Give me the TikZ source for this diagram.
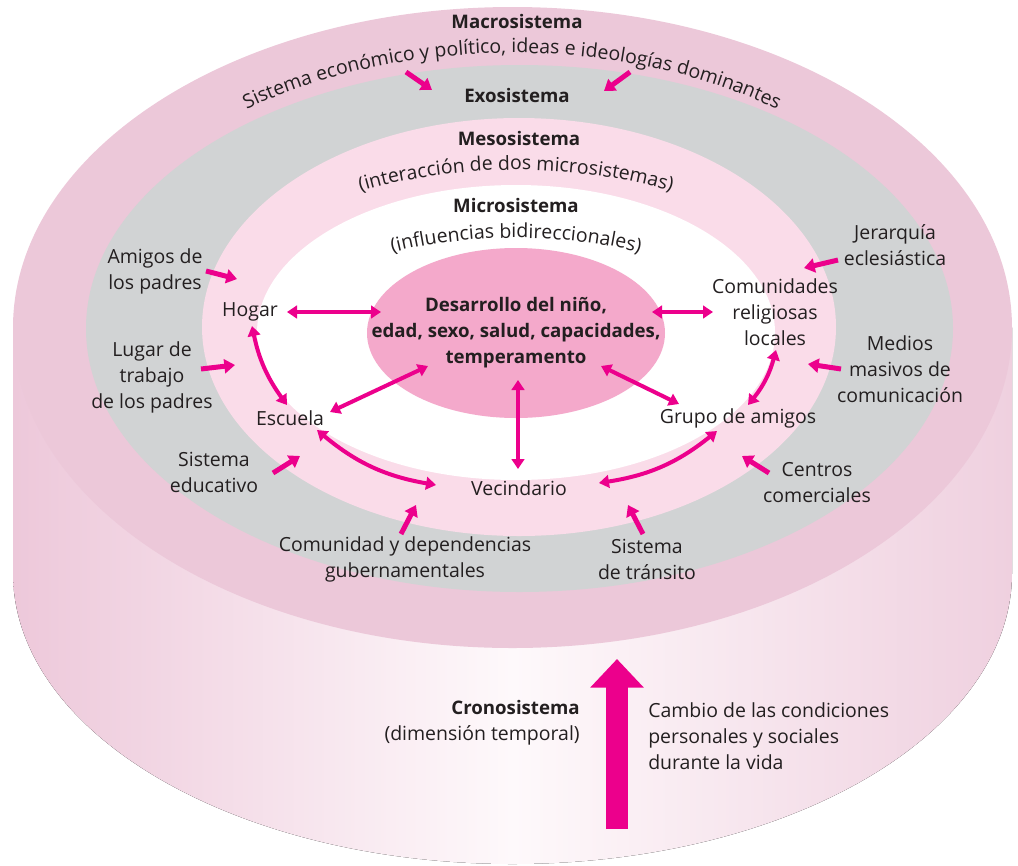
\documentclass[tikz,border=0pt]{standalone}
\usepackage{fontspec}
\setmainfont{Open Sans}
\usetikzlibrary{arrows.meta,decorations.text}
\definecolor{macro}{HTML}{ECC8D9}
\definecolor{exo}{HTML}{D1D3D4}
\definecolor{meso}{HTML}{FADCE9}
\definecolor{core}{HTML}{F4A9CB}
\definecolor{mag}{HTML}{EC008C}
\definecolor{ink}{HTML}{231F20}
\definecolor{cylL}{HTML}{EDC8DA}
\definecolor{cylM}{HTML}{FEF9FB}
\definecolor{cylR}{HTML}{EFD0DF}
\newcommand{\tf}{\fontsize{14.6}{19.5}\selectfont}
\newcommand{\tfb}{\fontsize{14}{19.5}\selectfont\bfseries}
\begin{document}
\begin{tikzpicture}[x=0.75pt,y=0.75pt,
  every node/.style={text=ink, font=\tf, align=center, inner sep=0pt},
  boldlbl/.style={font=\tfb},
  inarrow/.style={mag, line width=3.75pt, -{Triangle[length=8pt,width=10.5pt]}},
  biarrow/.style={mag, line width=3pt, {Triangle[length=7.5pt,width=9.5pt]}-{Triangle[length=7.5pt,width=9.5pt]}},
  bigarrow/.style={mag, line width=16.5pt, -{Triangle[length=21.5pt,width=39pt]}},
  curvetext/.style={decorate, decoration={text along path, text align=center, text={|\tf\color{ink}|#1}}}
]
\useasboundingbox (0,0) rectangle (1018,-865);
% cylinder body
\fill[left color=cylL, right color=cylR, middle color=cylM]
  (13,-327.5) -- (13,-573) arc[start angle=180, end angle=360, x radius=499.5, y radius=291]
  -- (1012,-327.5) -- cycle;
% rings
\fill[macro] (512.5,-327.5) ellipse[x radius=499.5, y radius=320.5];
\fill[exo] (519.5,-328.5) ellipse[x radius=433.5, y radius=263.5];
\fill[meso] (519,-327) ellipse[x radius=317, y radius=209];
\fill[white] (516,-332.5) ellipse[x radius=259, y radius=147.5];
\fill[core] (516,-333) ellipse[x radius=149, y radius=85];

% curved texts
\path[curvetext={Sistema económico y político, ideas e ideologías dominantes}]
  (133.55,-190.5) arc[start angle=150, end angle=30, x radius=437, y radius=275];
\path[curvetext={(interacción de dos microsistemas)}]
  (224.7,-275.3) arc[start angle=160, end angle=20, x radius=310, y radius=160];
\path[curvetext={(influencias bidireccionales)}]
  (290.5,-314) arc[start angle=170, end angle=10, x radius=229, y radius=92];

% titles
\node[boldlbl] (macroT) at (517,-21) {Macrosistema};
\node[boldlbl] (exoT) at (517,-95) {Exosistema};
\node[boldlbl] (mesoT) at (519,-138) {Mesosistema};
\node[boldlbl] (microT) at (516,-205) {Microsistema};
\node[boldlbl] (coreT) at (516,-333) {Desarrollo del niño,\\edad, sexo, salud, capacidades,\\temperamento};

% labels
\node (amigos) at (155,-271) {Amigos de\\los padres};
\node (hogar) at (250,-312) {Hogar};
\node (lugar) at (152,-377) {Lugar de\\trabajo\\de los padres};
\node (escuela) at (290,-418) {Escuela};
\node (educ) at (214,-472) {Sistema\\educativo};
\node (vecin) at (519,-488) {Vecindario};
\node (comun) at (405,-559) {Comunidad y dependencias\\gubernamentales};
\node (trans) at (647,-559) {Sistema\\de tránsito};
\node (centros) at (817,-483) {Centros\\comerciales};
\node (grupo) at (738,-418) {Grupo de amigos};
\node (relig) at (775,-312) {Comunidades\\religiosas\\locales};
\node (jerar) at (895,-245) {Jerarquía\\eclesiástica};
\node (medios) at (900,-369) {Medios\\masivos de\\comunicación};
\node[anchor=east, align=right] (crono) at (580,-723) {{\tfb Cronosistema}\\(dimensión temporal)};
\node[anchor=west, align=left] (cambio) at (648,-736) {Cambio de las condiciones\\personales y sociales\\durante la vida};

% arrow end points
\coordinate (a1s) at (406,-72);  \coordinate (a1e) at (432,-90);
\coordinate (a2s) at (630,-72);  \coordinate (a2e) at (604,-91);
\coordinate (a3s) at (206,-271); \coordinate (a3e) at (237,-279);
\coordinate (a4s) at (838,-260); \coordinate (a4e) at (804,-268);
\coordinate (a5s) at (201,-369); \coordinate (a5e) at (235,-365);
\coordinate (a6s) at (841,-369); \coordinate (a6e) at (808,-364);
\coordinate (a7s) at (273,-473); \coordinate (a7e) at (300,-456);
\coordinate (a8s) at (769,-473); \coordinate (a8e) at (742,-456);
\coordinate (a9s) at (401,-534); \coordinate (a9e) at (416,-505);
\coordinate (a10s) at (643,-534); \coordinate (a10e) at (628,-505);

\coordinate (b1s) at (287,-312); \coordinate (b1e) at (381,-312);
\coordinate (b2s) at (652,-312); \coordinate (b2e) at (713,-312);
\coordinate (b3s) at (252,-326); \coordinate (b3e) at (287,-405);
\coordinate (b4s) at (428,-366); \coordinate (b4e) at (330,-412);
\coordinate (b5s) at (518,-380); \coordinate (b5e) at (518,-469);
\coordinate (b6s) at (601,-366); \coordinate (b6e) at (679,-404);
\coordinate (b7s) at (776,-350); \coordinate (b7e) at (748,-405);
\coordinate (b8s) at (317,-430); \coordinate (b8e) at (436,-485);
\coordinate (b9s) at (717,-431); \coordinate (b9e) at (599,-483);

\coordinate (cs) at (617,-829); \coordinate (ce) at (617,-659);

% single arrows
\foreach \i in {1,...,10} { \draw[inarrow] (a\i s) -- (a\i e); }
% double arrows
\draw[biarrow] (b1s) -- (b1e);
\draw[biarrow] (b2s) -- (b2e);
\draw[biarrow] (b3s) to[bend right=12] (b3e);
\draw[biarrow] (b4s) -- (b4e);
\draw[biarrow] (b5s) -- (b5e);
\draw[biarrow] (b6s) -- (b6e);
\draw[biarrow] (b7s) to[bend left=12] (b7e);
\draw[biarrow] (b8s) to[bend right=15] (b8e);
\draw[biarrow] (b9s) to[bend left=15] (b9e);
% chronosystem arrow
\draw[bigarrow] (cs) -- (ce);
\end{tikzpicture}
\end{document}
